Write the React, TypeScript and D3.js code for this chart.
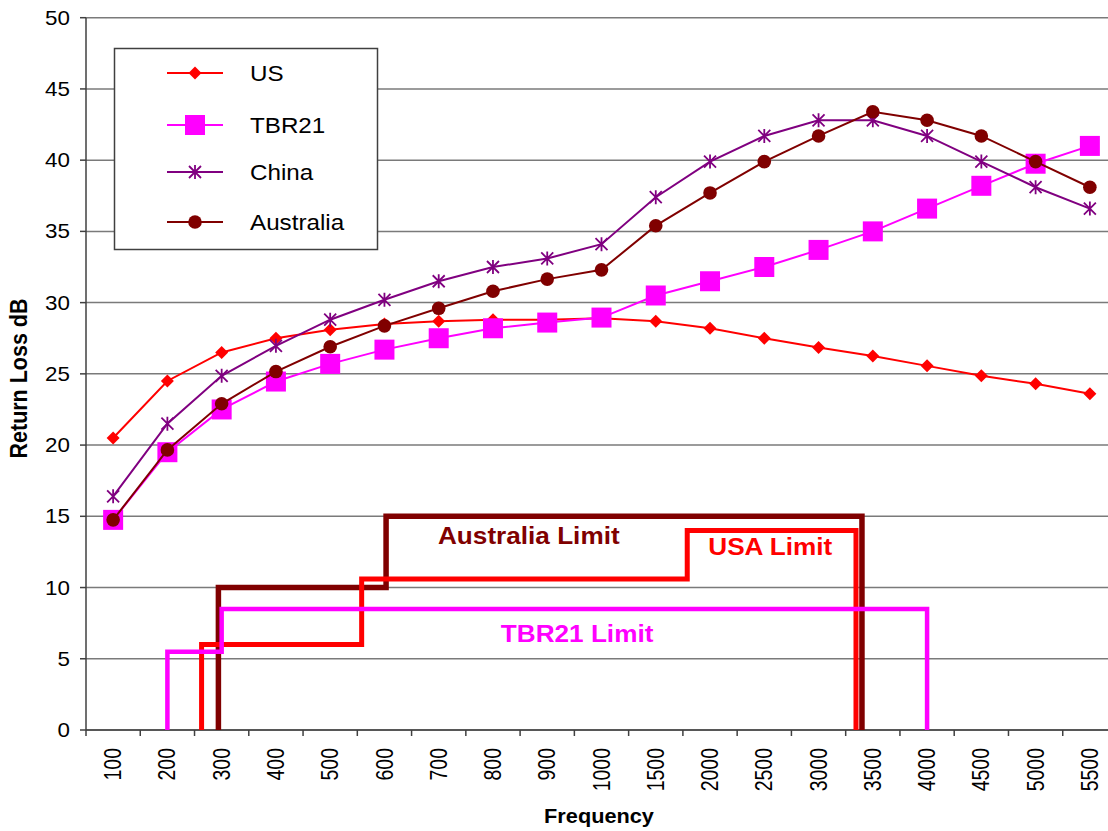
import React from 'react';
import * as d3 from 'd3';

const categories = ['100', '200', '300', '400', '500', '600', '700', '800', '900', '1000',
  '1500', '2000', '2500', '3000', '3500', '4000', '4500', '5000', '5500'];

const usValues = [20.5, 24.5, 26.5, 27.5, 28.1, 28.5, 28.7, 28.8, 28.8, 28.9,
  28.7, 28.2, 27.5, 26.85, 26.26, 25.56, 24.86, 24.3, 23.6];
const tbr21Values = [14.75, 19.5, 22.5, 24.46, 25.7, 26.7, 27.5, 28.2, 28.6, 28.95,
  30.5, 31.5, 32.5, 33.7, 35.0, 36.6, 38.2, 39.75, 41.0];
const chinaValues = [16.4, 21.5, 24.86, 26.97, 28.8, 30.2, 31.5, 32.5, 33.1, 34.1,
  37.4, 39.9, 41.7, 42.8, 42.8, 41.7, 39.9, 38.1, 36.6];
const australiaValues = [14.75, 19.66, 22.9, 25.16, 26.9, 28.37, 29.6, 30.8, 31.65, 32.3,
  35.4, 37.7, 39.9, 41.7, 43.4, 42.8, 41.7, 39.9, 38.1];

// Limit step lines: x in category-position units (0 = left axis), y in dB
const australiaLimitX = [2.44, 2.44, 5.53, 5.53, 14.3, 14.3];
const australiaLimitY = [0, 10, 10, 15, 15, 0];
const usaLimitX = [2.13, 2.13, 5.08, 5.08, 11.08, 11.08, 14.19, 14.19];
const usaLimitY = [0, 6, 6, 10.6, 10.6, 14, 14, 0];
const tbr21LimitX = [1.5, 1.5, 2.5, 2.5, 15.5, 15.5];
const tbr21LimitY = [0, 5.5, 5.5, 8.5, 8.5, 0];

const yTicks = [0, 5, 10, 15, 20, 25, 30, 35, 40, 45, 50];

type Marker = 'diamond' | 'square' | 'asterisk' | 'circle';
const series: { name: string; color: string; marker: Marker; values: number[] }[] = [
  { name: 'US', color: '#FF0000', marker: 'diamond', values: usValues },
  { name: 'TBR21', color: '#FF00FF', marker: 'square', values: tbr21Values },
  { name: 'China', color: '#800080', marker: 'asterisk', values: chinaValues },
  { name: 'Australia', color: '#800000', marker: 'circle', values: australiaValues },
];

const FONT = "'Liberation Sans', Arial, Helvetica, sans-serif";

function MarkerShape({ type, x, y, color }: { type: Marker; x: number; y: number; color: string }) {
  if (type === 'diamond') {
    const s = 6.5;
    return <path d={`M${x},${y - s}L${x + s},${y}L${x},${y + s}L${x - s},${y}Z`} fill={color} />;
  }
  if (type === 'square') {
    const s = 10;
    return <rect x={x - s} y={y - s} width={2 * s} height={2 * s} fill={color} />;
  }
  if (type === 'circle') {
    return <circle cx={x} cy={y} r={6.8} fill={color} />;
  }
  const a = 7;
  const d = 6;
  return (
    <path
      d={`M${x},${y - a}L${x},${y + a}M${x - d},${y - d}L${x + d},${y + d}M${x - d},${y + d}L${x + d},${y - d}`}
      stroke={color}
      strokeWidth={1.8}
      fill="none"
    />
  );
}

function Txt({
  x, y, sx = 1.1, rotate = 0, children, ...rest
}: {
  x: number; y: number; sx?: number; rotate?: number; children: React.ReactNode; [k: string]: any;
}) {
  return (
    <text transform={`translate(${x},${y}) scale(${sx},1)${rotate ? ` rotate(${rotate})` : ''}`} {...rest}>
      {children}
    </text>
  );
}

export default function App() {
  const W = 1108;
  const H = 831;
  const left = 86;
  const right = 1117;
  const top = 17.7;
  const bottom = 730;

  const x = d3.scaleBand<string>().domain(categories).range([left, right]).padding(0);
  const pos = d3.scaleLinear().domain([0, categories.length]).range([left, right]);
  const y = d3.scaleLinear().domain([0, 50]).range([bottom, top]);
  const cx = (c: string) => (x(c) as number) + x.bandwidth() / 2;

  const line = d3
    .line<number>()
    .x((_, i) => cx(categories[i]))
    .y((d) => y(d));

  const stepLine = (xs: number[], ys: number[]) =>
    d3
      .line<number>()
      .x((d) => pos(d))
      .y((_, i) => y(ys[i]))(xs) as string;

  const boundaries = d3.range(categories.length + 1).map((i) => pos(i));

  const legendRows = [73, 125, 172, 222];

  return (
    <svg
      width={W}
      height={H}
      style={{ position: 'absolute', left: 0, top: 0, background: '#fff' }}
      fontFamily={FONT}
    >
      <rect x={0} y={0} width={W} height={H} fill="#fff" />
      {/* gridlines */}
      {yTicks.map((t) => (
        <line key={`g${t}`} x1={left} x2={right} y1={y(t)} y2={y(t)} stroke="#7a7a7a" strokeWidth={1.5} />
      ))}
      {/* y axis */}
      <line x1={left} x2={left} y1={top} y2={bottom} stroke="#404040" strokeWidth={1.5} />
      {yTicks.map((t) => (
        <g key={`yt${t}`}>
          <line x1={left - 6} x2={left} y1={y(t)} y2={y(t)} stroke="#404040" strokeWidth={1.5} />
          <Txt x={70} y={y(t)} sx={1.12} dy="0.35em" textAnchor="end" fontSize={20} fill="#000">
            {t}
          </Txt>
        </g>
      ))}
      {/* x axis */}
      <line x1={left} x2={right} y1={bottom} y2={bottom} stroke="#404040" strokeWidth={1.5} />
      {boundaries.map((b, i) => (
        <line key={`xt${i}`} x1={b} x2={b} y1={bottom} y2={bottom + 6} stroke="#404040" strokeWidth={1.5} />
      ))}
      {categories.map((c) => (
        <Txt
          key={`xl${c}`}
          x={cx(c)}
          y={748}
          sx={1.18}
          rotate={-90}
          dy="0.35em"
          textAnchor="end"
          fontSize={19.5}
          fill="#000"
        >
          {c}
        </Txt>
      ))}
      {/* axis titles */}
      <Txt x={599} y={823} sx={1.06} textAnchor="middle" fontSize={20.5} fontWeight="bold" fill="#000">
        Frequency
      </Txt>
      <Txt
        x={27}
        y={378.5}
        sx={1.15}
        rotate={-90}
        textAnchor="middle"
        fontSize={21.5}
        fontWeight="bold"
        fill="#000"
      >
        Return Loss dB
      </Txt>

      {/* limit lines */}
      <path d={stepLine(australiaLimitX, australiaLimitY)} fill="none" stroke="#800000" strokeWidth={5.5} />
      <path d={stepLine(usaLimitX, usaLimitY)} fill="none" stroke="#FF0000" strokeWidth={5} />
      <path d={stepLine(tbr21LimitX, tbr21LimitY)} fill="none" stroke="#FF00FF" strokeWidth={4.5} />

      <Txt x={pos(8.16)} y={y(13.05)} sx={1.09} textAnchor="middle" fontSize={24} fontWeight="bold" fill="#800000">
        Australia Limit
      </Txt>
      <Txt x={pos(12.61)} y={y(12.28)} sx={1.09} textAnchor="middle" fontSize={24} fontWeight="bold" fill="#FF0000">
        USA Limit
      </Txt>
      <Txt x={pos(9.05)} y={y(6.18)} sx={1.09} textAnchor="middle" fontSize={24} fontWeight="bold" fill="#FF00FF">
        TBR21 Limit
      </Txt>

      {/* series */}
      {series.map((s) => (
        <g key={s.name}>
          <path d={line(s.values) as string} fill="none" stroke={s.color} strokeWidth={2} />
          {s.values.map((v, i) => (
            <MarkerShape key={i} type={s.marker} x={cx(categories[i])} y={y(v)} color={s.color} />
          ))}
        </g>
      ))}

      {/* legend */}
      <rect x={114.5} y={48.5} width={263} height={201} fill="#fff" stroke="#404040" strokeWidth={1.5} />
      {series.map((s, i) => (
        <g key={`lg${s.name}`}>
          <line x1={167} x2={223} y1={legendRows[i]} y2={legendRows[i]} stroke={s.color} strokeWidth={2} />
          <MarkerShape type={s.marker} x={195} y={legendRows[i]} color={s.color} />
          <Txt x={250} y={legendRows[i]} sx={1.1} dy="0.36em" fontSize={22} fill="#000">
            {s.name}
          </Txt>
        </g>
      ))}
    </svg>
  );
}
